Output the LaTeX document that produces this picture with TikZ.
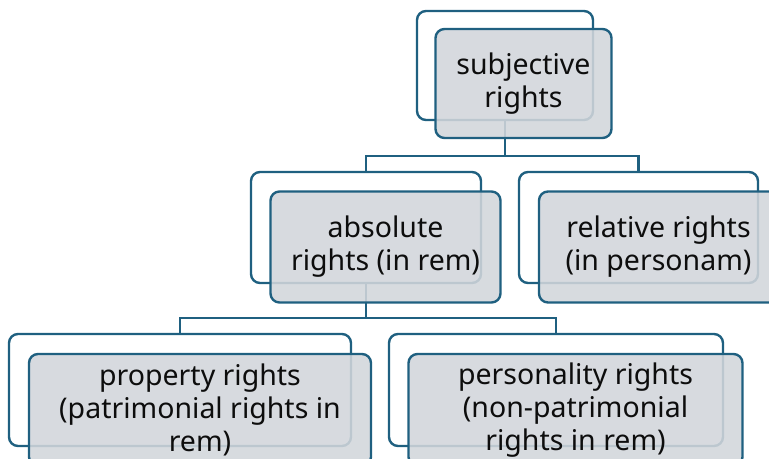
\documentclass[tikz,border=0pt]{standalone}
\usepackage{fontspec}
\setmainfont{Noto Sans}
\definecolor{edge}{RGB}{31,96,128}
\definecolor{boxfill}{RGB}{210,214,219}
\definecolor{ink}{RGB}{13,13,13}
\begin{document}
\begin{tikzpicture}[x=1bp,y=-1bp,
  backbox/.style={draw=edge, line width=2.4bp, fill=white, rounded corners=9bp, inner sep=0pt},
  frontbox/.style={draw=edge, line width=2.4bp, fill=boxfill, fill opacity=0.88, text opacity=1,
    rounded corners=9bp, inner sep=0pt, align=center, text=ink,
    font=\fontsize{28.6}{33}\selectfont},
  conn/.style={draw=edge, line width=2.3bp}]
\useasboundingbox (0,0) rectangle (769,459);
\clip (0,0) rectangle (769,459);
% back boxes
\node[backbox, minimum width=176bp, minimum height=109bp] (topB) at (505,65.5) {};
\node[backbox, minimum width=230bp, minimum height=111bp] (mlB) at (366,227.5) {};
\node[backbox, minimum width=239bp, minimum height=111bp] (mrB) at (638.5,227.5) {};
\node[backbox, minimum width=342bp, minimum height=112bp] (blB) at (180,390) {};
\node[backbox, minimum width=334bp, minimum height=112bp] (brB) at (556,390) {};
% connectors
\coordinate (j1) at (505,156);
\coordinate (j2) at (366,318);
\draw[conn] (topB.south) -- (j1) -| (mlB.north);
\draw[conn] (j1) -| (mrB.north);
\draw[conn] (mlB.south) -- (j2) -| (blB.north);
\draw[conn] (j2) -| (brB.north);
% front boxes
\node[frontbox, minimum width=176bp, minimum height=109bp] (topF) at (523.5,83.5) {subjective\\rights};
\node[frontbox, minimum width=230bp, minimum height=111bp] (mlF) at (385.5,247) {absolute\\rights (in rem)};
\node[frontbox, minimum width=239bp, minimum height=111bp] (mrF) at (658.5,247) {relative rights\\(in personam)};
\node[frontbox, minimum width=342bp, minimum height=112bp] (blF) at (200,410) {property rights\\(patrimonial rights in\\rem)};
\node[frontbox, minimum width=334bp, minimum height=112bp] (brF) at (575.5,410) {personality rights\\(non-patrimonial\\rights in rem)};
\end{tikzpicture}
\end{document}
